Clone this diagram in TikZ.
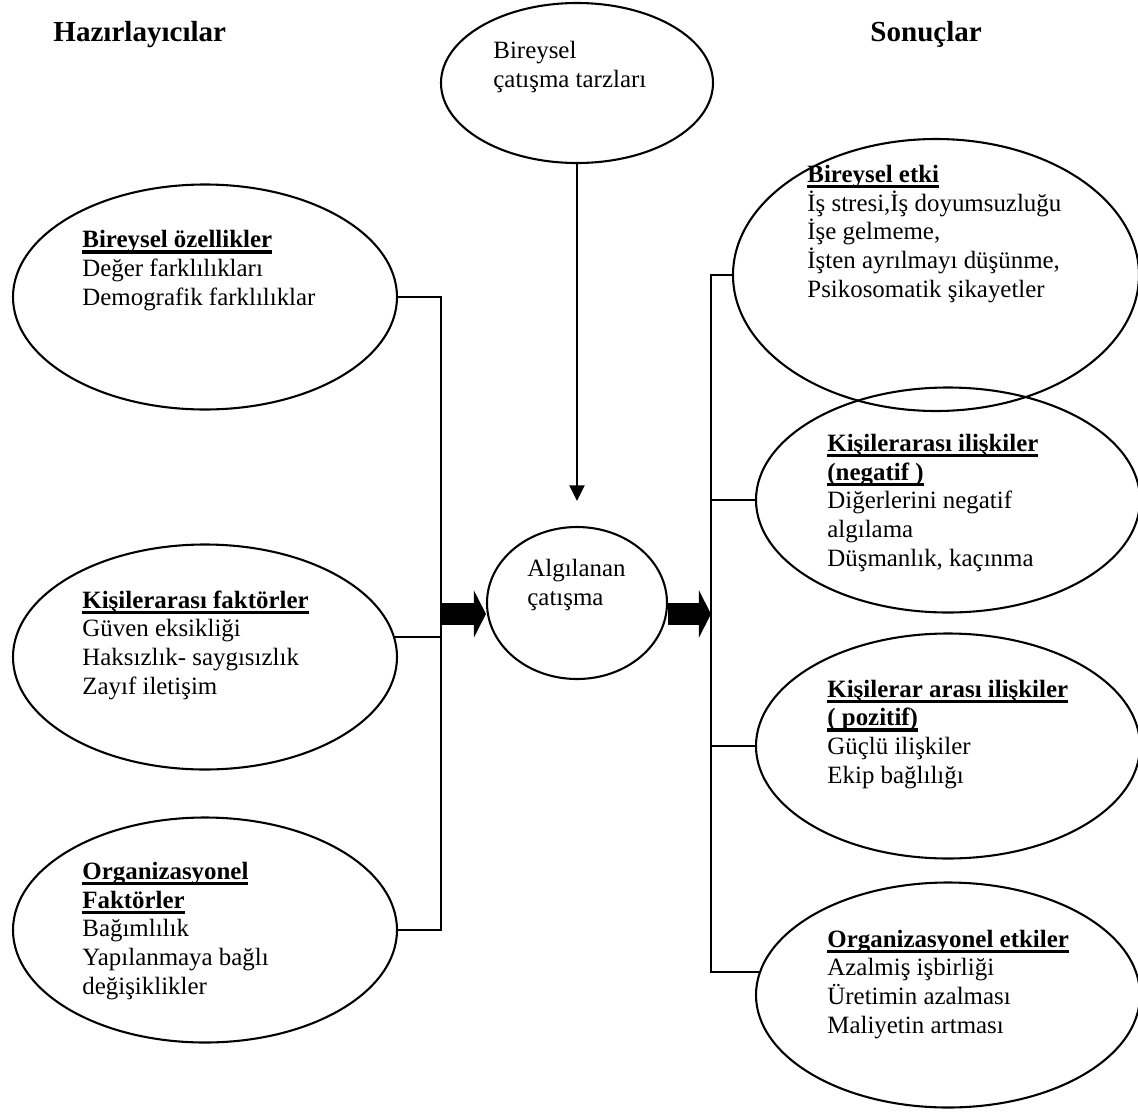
\documentclass[tikz,border=0pt]{standalone}
\usepackage{fontspec}
\setmainfont{Liberation Serif}
\usetikzlibrary{shapes.geometric,arrows.meta}
\newdimen\pxu
\pxu=0.48bp
% bold heading with a heavy underline
\newcommand\hd[1]{{\setbox0=\hbox{\bfseries #1}\rlap{\rule[-2.8bp]{\wd0}{1.6bp}}\box0}}
\tikzset{
  oval/.style={ellipse, draw, line width=1bp, inner sep=0pt},
  lsize/.style={minimum width=384\pxu, minimum height=225\pxu},
  % text blocks are placed by the baseline of their last line
  txt/.style={anchor=base west, align=left, inner sep=0pt,
    font=\fontsize{12}{13.8}\selectfont},
  title/.style={anchor=base west, inner sep=0pt,
    font=\fontsize{14}{16}\selectfont\bfseries},
  wire/.style={line width=1bp},
  thin arrow/.style={line width=1bp, -{Triangle[width=7.2bp,length=7.5bp]}},
  block/.style={line width=11bp, -{Triangle[width=22.5bp,length=5.8bp]}}
}
\begin{document}
\begin{tikzpicture}[x=0.48bp, y=-0.48bp]
\fill[white] (0,0) rectangle (1138,1113);
\useasboundingbox (0,0) rectangle (1138,1113);

% column headings
\node[title] (htitle) at (53,41) {Hazırlayıcılar};
\node[title] (stitle) at (870,41) {Sonuçlar};

% moderator
\node[oval, minimum width=272\pxu, minimum height=160\pxu] (styles) at (577,83) {};
\node[txt] (stylestxt) at (493,87) {Bireysel\\çatışma tarzları};

% perceived conflict
\node[oval, minimum width=180\pxu, minimum height=152\pxu] (perc) at (577,603) {};
\node[txt] (perctxt) at (527,605) {Algılanan\\çatışma};

% antecedents
\node[oval, lsize] (ind) at (205,297) {};
\node[txt] (indtxt) at (82,305) {\hd{Bireysel özellikler}\\Değer farklılıkları\\Demografik farklılıklar};
\node[oval, lsize] (inter) at (205,657) {};
\node[txt] (intertxt) at (82,694) {\hd{Kişilerarası faktörler}\\Güven eksikliği\\Haksızlık- saygısızlık\\Zayıf iletişim};
\node[oval, lsize] (org) at (205,930) {};
\node[txt] (orgtxt) at (82,994) {\hd{Organizasyonel}\\\hd{Faktörler}\\Bağımlılık\\Yapılanmaya bağlı\\değişiklikler};

% outcomes
\node[oval, minimum width=406\pxu, minimum height=272\pxu] (rind) at (936,275) {};
\node[txt] (rindtxt) at (807,297) {\hd{Bireysel etki}\\İş stresi,İş doyumsuzluğu\\İşe gelmeme,\\İşten ayrılmayı düşünme,\\Psikosomatik şikayetler};
\node[oval, lsize] (rneg) at (948,500) {};
\node[txt] (rnegtxt) at (827,566) {\hd{Kişilerarası ilişkiler}\\\hd{(negatif )}\\Diğerlerini negatif\\algılama\\Düşmanlık, kaçınma};
\node[oval, lsize] (rpos) at (948,746) {};
\node[txt] (rpostxt) at (827,783) {\hd{Kişilerar arası ilişkiler}\\\hd{( pozitif)}\\Güçlü ilişkiler\\Ekip bağlılığı};
\node[oval, lsize] (rorg) at (948,995) {};
\node[txt] (rorgtxt) at (827,1033) {\hd{Organizasyonel etkiler}\\Azalmiş işbirliği\\Üretimin azalması\\Maliyetin artması};

% collecting lines
\coordinate (lbus) at (441,0);
\coordinate (rbus) at (711,0);
\draw[wire] (ind.east) -- (ind.east -| lbus) -- (org.east -| lbus) -- (org.east);
\draw[wire] (inter.6) -- (inter.6 -| lbus);
\draw[wire] (rind.west) -- (rind.west -| rbus) -- (rorg.173 -| rbus) -- (rorg.173);
\draw[wire] (rneg.west) -- (rneg.west -| rbus);
\draw[wire] (rpos.west) -- (rpos.west -| rbus);

% influence of conflict styles
\coordinate (stylestip) at (577,501);
\draw[thin arrow] (styles.south) -- (stylestip);

% main flow
\coordinate (flow) at (441,614);
\draw[block] (flow) -- (flow -| perc.west);
\draw[block] (perc.east |- flow) -- (flow -| rbus);
\end{tikzpicture}
\end{document}
